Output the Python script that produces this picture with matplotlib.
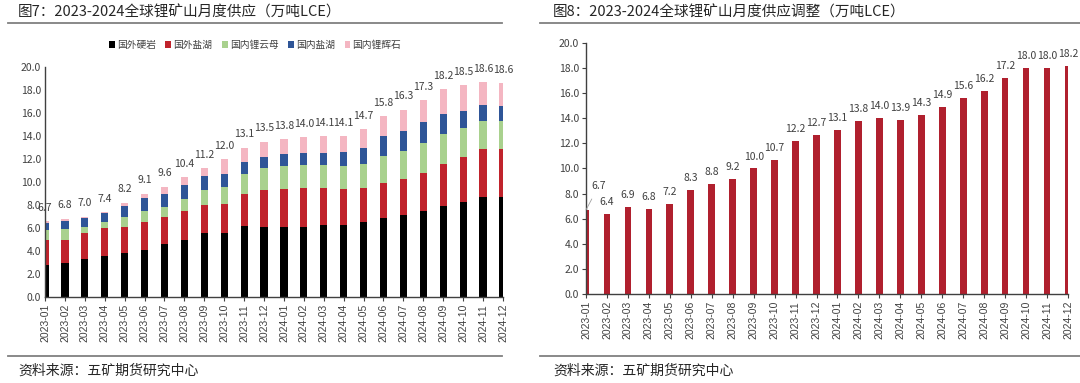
import matplotlib
matplotlib.use("Agg")
import matplotlib.pyplot as plt
from matplotlib.lines import Line2D
import numpy as np

plt.rcParams['font.family'] = ['Noto Sans CJK SC', 'DejaVu Sans']

months = ['2023-01', '2023-02', '2023-03', '2023-04', '2023-05', '2023-06',
          '2023-07', '2023-08', '2023-09', '2023-10', '2023-11', '2023-12',
          '2024-01', '2024-02', '2024-03', '2024-04', '2024-05', '2024-06',
          '2024-07', '2024-08', '2024-09', '2024-10', '2024-11', '2024-12']

# 图7 分项（万吨LCE）
hard_rock_abroad = [2.8, 3.0, 3.3, 3.6, 3.8, 4.1, 4.6, 5.0, 5.6, 5.6, 6.2, 6.1,
                    6.1, 6.1, 6.3, 6.3, 6.5, 6.9, 7.1, 7.5, 7.9, 8.3, 8.7, 8.7]
brine_abroad = [2.2, 2.0, 2.3, 2.4, 2.3, 2.4, 2.4, 2.5, 2.4, 2.5, 2.8, 3.2,
                3.3, 3.4, 3.2, 3.1, 3.0, 3.0, 3.2, 3.3, 3.7, 3.9, 4.2, 4.2]
lepidolite_cn = [0.8, 0.9, 0.5, 0.5, 0.9, 1.0, 0.8, 1.0, 1.3, 1.5, 1.7, 1.9,
                 2.0, 2.0, 2.0, 2.0, 2.1, 2.4, 2.4, 2.6, 2.6, 2.5, 2.4, 2.4]
brine_cn = [0.6, 0.7, 0.8, 0.8, 0.9, 1.1, 1.2, 1.2, 1.2, 1.1, 1.0, 1.0,
            1.0, 1.0, 1.0, 1.2, 1.4, 1.7, 1.7, 1.8, 1.7, 1.5, 1.4, 1.3]
spodumene_cn = [0.2, 0.2, 0.1, 0.1, 0.3, 0.4, 0.6, 0.7, 0.7, 1.3, 1.3, 1.3,
                1.3, 1.4, 1.5, 1.4, 1.6, 1.7, 1.9, 1.9, 2.2, 2.2, 2.0, 2.0]
total_labels = [6.7, 6.8, 7.0, 7.4, 8.2, 9.1, 9.6, 10.4, 11.2, 12.0, 13.1, 13.5,
                13.8, 14.0, 14.1, 14.1, 14.7, 15.8, 16.3, 17.3, 18.2, 18.5, 18.6, 18.6]

# 图8 调整后供应
adjusted = [6.7, 6.4, 6.9, 6.8, 7.2, 8.3, 8.8, 9.2, 10.0, 10.7, 12.2, 12.7,
            13.1, 13.8, 14.0, 13.9, 14.3, 14.9, 15.6, 16.2, 17.2, 18.0, 18.0, 18.2]

series_names = ['国外硬岩', '国外盐湖', '国内锂云母', '国内盐湖', '国内锂辉石']
series_colors = ['#000000', '#C0232C', '#A9D18E', '#2F5597', '#F4B6C2']

fig = plt.figure(figsize=(10.8, 3.83), dpi=100)
x = np.arange(len(months))
txt_col = '#404040'


def style_axes(ax):
    ax.set_xlim(0, len(months) - 1)
    ax.set_ylim(0, 20)
    ax.set_yticks(np.arange(0, 20.1, 2))
    ax.set_yticklabels([f'{v:.1f}' for v in np.arange(0, 20.1, 2)], fontsize=7.5, color=txt_col)
    ax.set_xticks(x)
    ax.set_xticklabels(months, rotation=90, fontsize=7.5, color=txt_col, family='Liberation Sans')
    for s in ['top', 'right']:
        ax.spines[s].set_visible(False)
    for s in ['left', 'bottom']:
        ax.spines[s].set_color('#404040')
        ax.spines[s].set_linewidth(1.0)
    ax.tick_params(axis='x', length=3, width=0.8, color='#404040', pad=2)


# left chart
ax1 = fig.add_axes([0.0417, 0.2245, 0.424, 0.6005])
bottom = np.zeros(len(months))
for vals, name, col in zip([hard_rock_abroad, brine_abroad, lepidolite_cn, brine_cn, spodumene_cn],
                           series_names, series_colors):
    ax1.bar(x, vals, width=0.36, bottom=bottom, color=col, label=name)
    bottom += np.array(vals)
style_axes(ax1)
ax1.tick_params(axis='y', length=0, pad=3)
for xi, top, lab in zip(x, bottom, total_labels):
    ax1.annotate(f'{lab:.1f}', (xi, top), xytext=(0, 6), textcoords='offset points',
                 ha='center', va='bottom', fontsize=7.5, color=txt_col, annotation_clip=False)
fig.legend(loc='center', bbox_to_anchor=(255 / 1080, 1 - 45 / 383), ncol=5, frameon=False,
           fontsize=7, handlelength=0.6, handleheight=0.6, handletextpad=0.2,
           columnspacing=1.0, labelcolor=txt_col)

# right chart
ax2 = fig.add_axes([0.5426, 0.2324, 0.4463, 0.6554])
ax2.bar(x, adjusted, width=0.32, color='#B0202E')
style_axes(ax2)
ax2.tick_params(axis='y', length=3, width=0.8, color='#404040', pad=2)
for xi, v in zip(x, adjusted):
    if xi == 0:
        ax2.annotate(f'{v:.1f}', (xi, v), xytext=(9, 17), textcoords='offset points',
                     ha='center', va='center', fontsize=7.5, color=txt_col, annotation_clip=False,
                     arrowprops=dict(arrowstyle='-', color='#A0A0A0', lw=0.6, shrinkA=4, shrinkB=0))
    else:
        ax2.annotate(f'{v:.1f}', (xi, v), xytext=(0, 5), textcoords='offset points',
                     ha='center', va='bottom', fontsize=7.5, color=txt_col, annotation_clip=False)

# titles, separator lines, sources
fig.text(18 / 1080, 1 - 12 / 383, '图7：2023-2024全球锂矿山月度供应（万吨LCE）',
         fontsize=10.5, fontweight='medium', color='#262626', va='center', ha='left')
fig.text(553 / 1080, 1 - 12 / 383, '图8：2023-2024全球锂矿山月度供应调整（万吨LCE）',
         fontsize=10.5, fontweight='medium', color='#262626', va='center', ha='left')
for x0, x1 in [(8, 502), (540, 1080)]:
    for yy in [23, 356]:
        fig.add_artist(Line2D([x0 / 1080, x1 / 1080], [1 - yy / 383, 1 - yy / 383],
                              color='#808080', lw=1.3))
fig.text(18 / 1080, 1 - 371 / 383, '资料来源：五矿期货研究中心', fontsize=10,
         color='#262626', va='center', ha='left')
fig.text(553 / 1080, 1 - 371 / 383, '资料来源：五矿期货研究中心', fontsize=10,
         color='#262626', va='center', ha='left')

fig.savefig('out.png', dpi=100)
